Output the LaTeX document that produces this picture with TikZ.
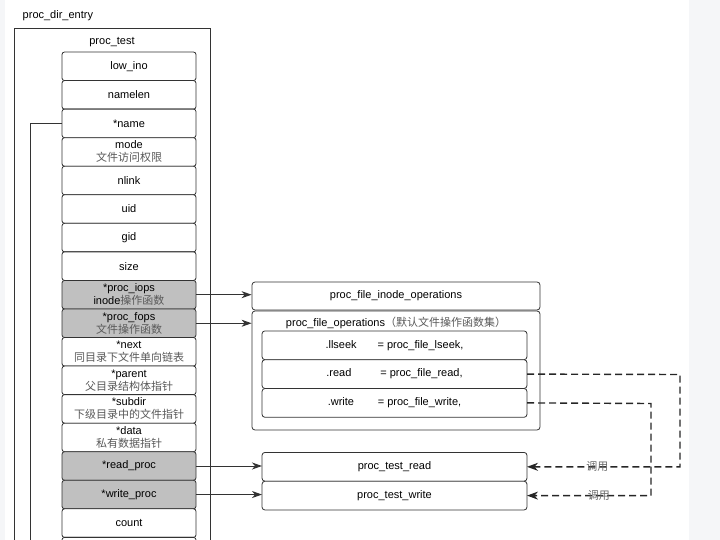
\documentclass[tikz,border=0pt]{standalone}
\usepackage{fontspec}
\setmainfont{Liberation Sans}
\newfontfamily\cjk{Noto Sans CJK SC}
\usetikzlibrary{positioning,arrows.meta}
\definecolor{fieldgray}{RGB}{192,192,192}
\definecolor{pagegray}{RGB}{245,246,248}
\newcommand\zh[1]{{\cjk\fontsize{11}{13}\selectfont\color{black!65}#1}}

\begin{document}
\begin{tikzpicture}[x=1pt,y=-1pt,line width=.8pt,
  field/.style={draw=black!80,rounded corners=2.5pt,fill=white,minimum width=134pt,minimum height=28.55pt,inner sep=0pt,outer sep=0pt,align=center,font=\fontsize{11}{13}\selectfont},
  hotfield/.style={field,fill=fieldgray},
  opsbox/.style={draw=black!80,rounded corners=3pt,fill=white,minimum width=265pt,minimum height=28.8pt,inner sep=0pt,outer sep=0pt,font=\fontsize{11}{13}\selectfont},
  ptr/.style={black!80,line width=1pt,-{Stealth[length=10pt,width=7pt,inset=3pt]}},
  call/.style={black!85,line width=1.4pt,dash pattern=on 7pt off 4pt,-{Stealth[length=11pt,width=8pt,inset=3.5pt]}}]
\clip (0,0) rectangle (720,540);
\fill[pagegray] (689,0) rectangle (720,540);
\fill[pagegray] (0,0) rectangle (5,540);

% proc_dir_entry
\node[draw=black!80,minimum width=196pt,minimum height=540pt,anchor=north west] (direntry) at (14,28) {};
\node[anchor=west,font=\fontsize{11}{13}\selectfont] (direntrylabel) at (19,16) {proc\_dir\_entry};
\node[font=\fontsize{11}{13}\selectfont] (testlabel) at (112,42) {proc\_test};

% fields
\node[field] (lowino) at (129,66.3) {low\_ino};
\node[field,below=0pt of lowino] (namelen) {namelen};
\node[field,below=0pt of namelen] (name) {*name};
\node[field,below=0pt of name] (mode) {mode\\\zh{文件访问权限}};
\node[field,below=0pt of mode] (nlink) {nlink};
\node[field,below=0pt of nlink] (uid) {uid};
\node[field,below=0pt of uid] (gid) {gid};
\node[field,below=0pt of gid] (size) {size};
\node[hotfield,below=0pt of size] (iops) {*proc\_iops\\inode\zh{操作函数}};
\node[hotfield,below=0pt of iops] (fops) {*proc\_fops\\\zh{文件操作函数}};
\node[field,below=0pt of fops] (next) {*next\\\zh{同目录下文件单向链表}};
\node[field,below=0pt of next] (parent) {*parent\\\zh{父目录结构体指针}};
\node[field,below=0pt of parent] (subdir) {*subdir\\\zh{下级目录中的文件指针}};
\node[field,below=0pt of subdir] (data) {*data\\\zh{私有数据指针}};
\node[hotfield,below=0pt of data] (readproc) {*read\_proc};
\node[hotfield,below=0pt of readproc] (writeproc) {*write\_proc};
\node[field,below=0pt of writeproc] (count) {count};
\node[field,below=0pt of count] (tail) {};

% name pointer
\coordinate (namedown) at (30,550);
\draw[black!80] (name.west) -| (namedown);

% operations
\node[draw=black!80,rounded corners=3pt,minimum width=288pt,minimum height=28pt,font=\fontsize{11}{13}\selectfont] (inodeops) at (396,296) {proc\_file\_inode\_operations};
\node[draw=black!80,rounded corners=3pt,minimum width=288pt,minimum height=119pt] (fileops) at (396,370.5) {};
\node[below=6pt of fileops.north,inner sep=0pt,font=\fontsize{11}{13}\selectfont] (fileopstitle) {proc\_file\_operations\zh{（默认文件操作函数集）}};
\node[opsbox] (llseek) at (394.5,345.3) {\makebox[52pt][l]{.llseek}= proc\_file\_lseek,};
\node[opsbox,below=0pt of llseek] (read) {\makebox[54pt][l]{.read}= proc\_file\_read,};
\node[opsbox,below=0pt of read] (write) {\makebox[50pt][l]{.write}= proc\_file\_write,};
\node[opsbox] (testread) at (394.5,466.8) {proc\_test\_read};
\node[opsbox,below=0pt of testread] (testwrite) {proc\_test\_write};

\draw[ptr] (iops.east) -- (iops.east -| inodeops.west);
\draw[ptr] (fops.east) -- (fops.east -| fileops.west);
\draw[ptr] (readproc.east) -- (readproc.east -| testread.west);
\draw[ptr] (writeproc.east) -- (writeproc.east -| testwrite.west);

% calls
\coordinate (readturn) at (680,374.5);
\coordinate (writeturn) at (651,403.5);
\draw[call] (read.east) -- (readturn) |- (testread.east) node[pos=.77,font=\cjk\fontsize{11}{13}\selectfont,text=black!60] (readcall) {调用};
\draw[call] (write.east) -- (writeturn) |- (testwrite.east) node[pos=.71,font=\cjk\fontsize{11}{13}\selectfont,text=black!60] (writecall) {调用};
\end{tikzpicture}
\end{document}
